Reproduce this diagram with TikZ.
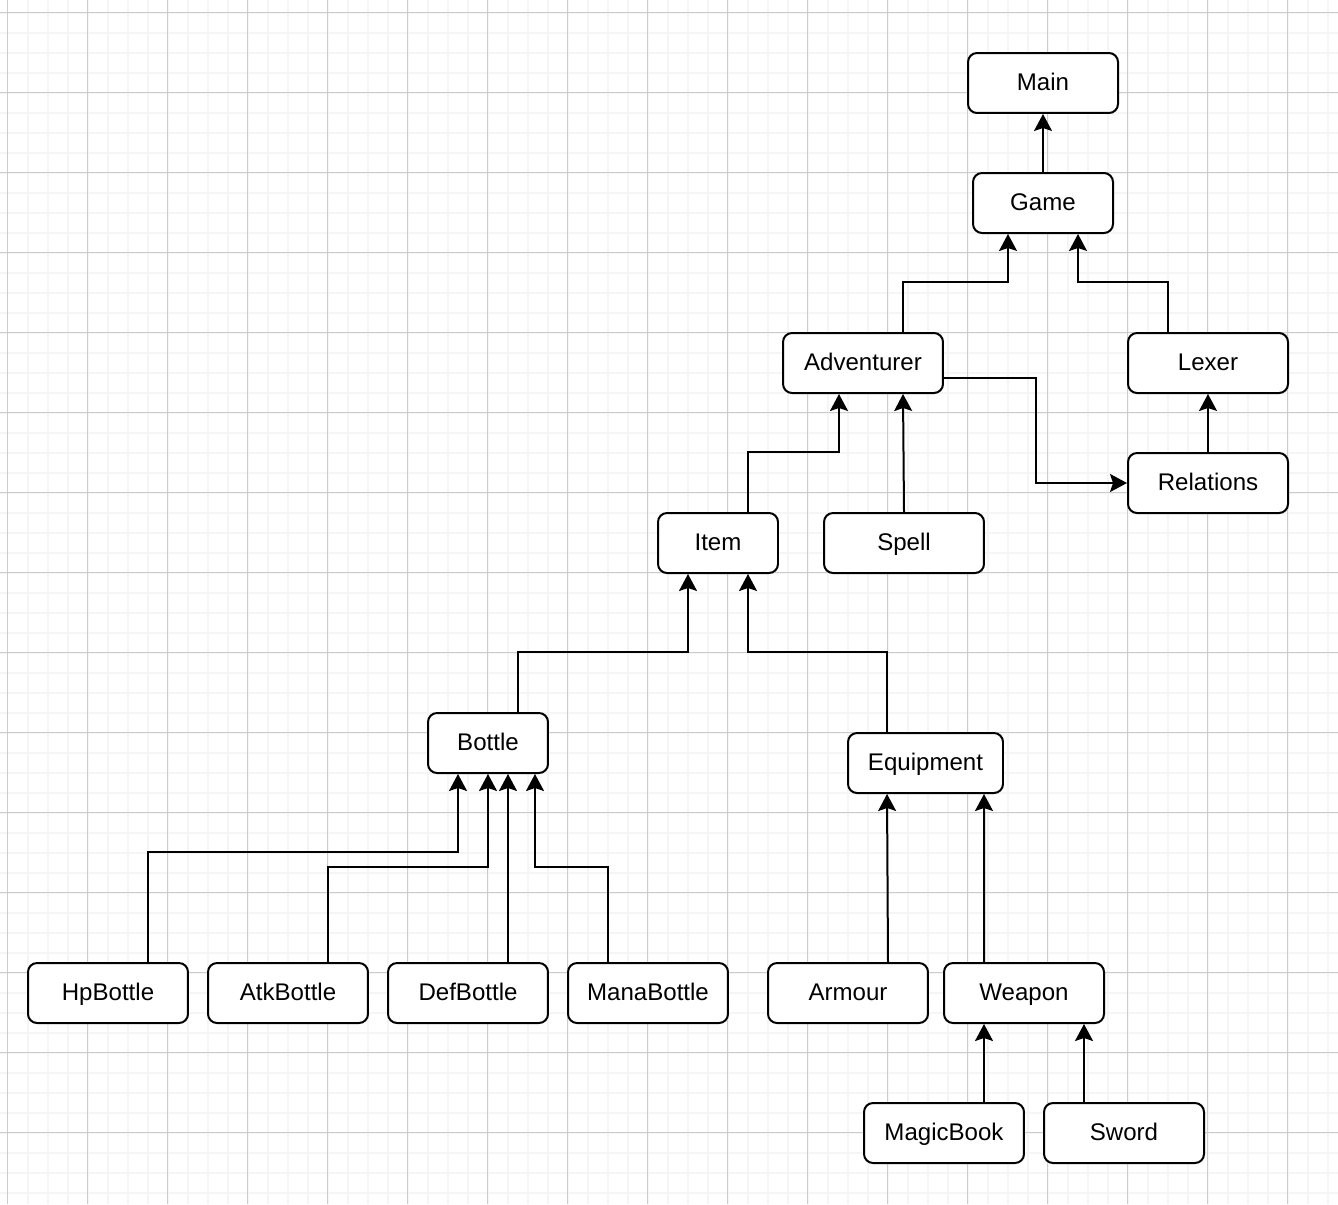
\documentclass[tikz,border=0pt]{standalone}
\usepackage{fontspec}
\setmainfont{Liberation Sans}
\usetikzlibrary{arrows.meta}
\usetikzlibrary{calc}
\usepackage{xcolor}

\begin{document}
\begin{tikzpicture}[x=0.02cm, y=-0.02cm]
        % ================= 样式定义 =================
        \tikzset{
            % 类框样式:圆角矩形
            cls/.style={draw=black, line width=0.04cm, fill=white, rounded corners=0.18cm, minimum height=1.2cm, inner sep=0pt, text height=0.86em, text depth=0pt, font=\fontsize{13.7}{16}\selectfont},
            % 宽度
            w160/.style={cls, minimum width=3.2cm},
            w150/.style={cls, minimum width=3cm},
            w140/.style={cls, minimum width=2.8cm},
            w120/.style={cls, minimum width=2.4cm},
            w155/.style={cls, minimum width=3.1cm},
            % 依赖边
            dep/.style={line width=0.04cm, black, -{Stealth[length=0.34cm, width=0.36cm, inset=0.06cm]}},
            % 网格
            minorgrid/.style={line width=0.04cm, black!4},
            majorgrid/.style={line width=0.02cm, black!20}
        }

        % ================= 背景网格 =================
        \useasboundingbox (0,0) rectangle (1338,1204);
        \fill[white] (0,0) rectangle (1338,1204);
        \foreach \x in {-12.5,7.5,...,1340} \draw[minorgrid] (\x,0) -- (\x,1204);
        \foreach \y in {-7.5,12.5,...,1210} \draw[minorgrid] (0,\y) -- (1338,\y);
        \foreach \x in {7.5,87.5,...,1340} \draw[majorgrid] (\x,0) -- (\x,1204);
        \foreach \y in {12.5,92.5,...,1210} \draw[majorgrid] (0,\y) -- (1338,\y);

        % ================= 上层:Main / Game =================
        \node[w150] (main) at (1043,83) {Main};
        \node[w140] (game) at (1043,203) {Game};
        \node[w160] (adv) at (863,363) {Adventurer};
        \node[w160] (lexer) at (1208,363) {Lexer};
        \node[w160] (rel) at (1208,483) {Relations};

        \draw[dep] (game) -- (main);
        \draw[dep] ($(adv.north)+(40,0)$) -- ++(0,-50) -| ($(game.south)+(-35,0)$);
        \draw[dep] ($(lexer.north)+(-40,0)$) -- ++(0,-50) -| ($(game.south)+(35,0)$);
        \draw[dep] ($(adv.east)+(0,15)$) -- ++(92,0) |- (rel.west);
        \draw[dep] (rel) -- (lexer);

        % ================= 中层:Item / Spell =================
        \node[w120] (item) at (718,543) {Item};
        \node[w160] (spell) at (904,543) {Spell};

        \draw[dep] ($(item.north)+(30,0)$) -- ++(0,-60) -| ($(adv.south)+(-24,0)$);
        \draw[dep] (spell.north) -- ($(adv.south)+(40,0)$);

        % ================= Bottle / Equipment =================
        \node[w120] (bottle) at (488,743) {Bottle};
        \node[w155] (equip) at (925.5,763) {Equipment};

        \draw[dep] ($(bottle.north)+(30,0)$) -- ++(0,-60) -| ($(item.south)+(-30,0)$);
        \draw[dep] ($(equip.north)+(-38.5,0)$) -- ++(0,-80) -| ($(item.south)+(30,0)$);

        % ================= 底层:各种药水 =================
        \node[w160] (hp) at (108,993) {HpBottle};
        \node[w160] (atk) at (288,993) {AtkBottle};
        \node[w160] (def) at (468,993) {DefBottle};
        \node[w160] (mana) at (648,993) {ManaBottle};

        \draw[dep] ($(hp.north)+(40,0)$) -- ++(0,-110) -| ($(bottle.south)+(-30,0)$);
        \draw[dep] ($(atk.north)+(40,0)$) -- ++(0,-95) -| (bottle.south);
        \draw[dep] ($(def.north)+(40,0)$) -- ($(bottle.south)+(20,0)$);
        \draw[dep] ($(mana.north)+(-40,0)$) -- ++(0,-95) -| ($(bottle.south)+(47,0)$);

        % ================= 底层:装备 =================
        \node[w160] (armour) at (848,993) {Armour};
        \node[w160] (weapon) at (1024,993) {Weapon};
        \node[w160] (magic) at (944,1133) {MagicBook};
        \node[w160] (sword) at (1124,1133) {Sword};

        \draw[dep] ($(armour.north)+(40,0)$) -- ($(equip.south)+(-38.5,0)$);
        \draw[dep] ($(weapon.north)+(-40,0)$) -- ($(equip.south)+(58.5,0)$);
        \draw[dep] ($(magic.north)+(40,0)$) -- ($(weapon.south)+(-40,0)$);
        \draw[dep] ($(sword.north)+(-40,0)$) -- ($(weapon.south)+(60,0)$);

    \end{tikzpicture}
\end{document}
